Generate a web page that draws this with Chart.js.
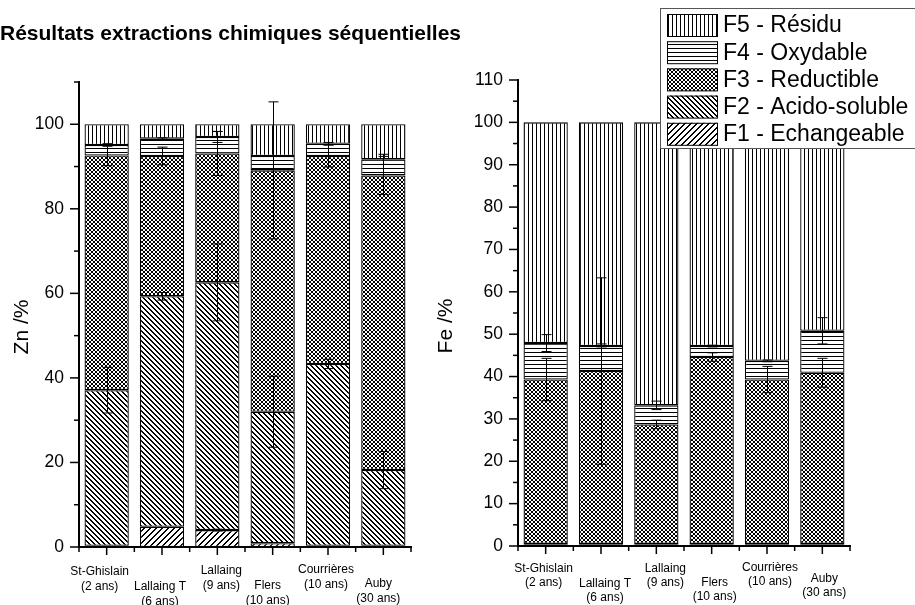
<!DOCTYPE html>
<html>
<head>
<meta charset="utf-8">
<script src="https://cdn.jsdelivr.net/npm/chart.js@4.4.0/dist/chart.umd.min.js"></script>
<style>
  html, body { margin: 0; padding: 0; background: #fff; }
  body { width: 915px; height: 605px; position: relative; overflow: hidden; }
  canvas { position: absolute; top: 0; }
  #zn { left: 0; }
  #fe { left: 400px; }
</style>
</head>
<body>
<canvas id="zn" width="470" height="605"></canvas>
<canvas id="fe" width="515" height="605"></canvas>
<script>
// sites and fractions
const siteNames = ['St-Ghislain', 'Lallaing T', 'Lallaing', 'Flers', 'Courrières', 'Auby'];
const siteAges = ['(2 ans)', '(6 ans)', '(9 ans)', '(10 ans)', '(10 ans)', '(30 ans)'];
const fractionNames = ['F1 - Echangeable', 'F2 - Acido-soluble', 'F3 - Reductible', 'F4 - Oxydable', 'F5 - Résidu'];

// Zn (%) per fraction
const znF1 = [0.3, 4.8, 4.0, 0.9, 0.3, 0.3];
const znF2 = [36.8, 54.5, 58.6, 31.1, 43.0, 17.9];
const znF3 = [55.5, 33.2, 30.5, 57.1, 49.2, 69.7];
const znF4 = [2.5, 4.1, 3.9, 3.4, 2.9, 3.8];
const znF5 = [4.9, 3.4, 3.0, 7.5, 4.6, 8.3];
const znErrF1 = [0, 0, 0.2, 0, 0, 0];
const znErrF2 = [5.4, 0.9, 9.1, 8.4, 1.1, 4.4];
const znErrF3 = [2.4, 2.1, 5.2, 16.2, 2.6, 4.5];
const znErrF4 = [0.3, 0.2, 1.3, 0, 0.3, 1.2];
const znErrF5 = [0, 0, 0, 0, 0, 0];

// Fe (%) per fraction
const feF1 = [0.3, 0.3, 0.3, 0.3, 0.3, 0.3];
const feF2 = [0.2, 0.2, 0.2, 0.2, 0.2, 0.2];
const feF3 = [38.8, 40.8, 28.2, 44.1, 38.8, 40.4];
const feF4 = [8.6, 5.9, 4.5, 2.6, 4.4, 9.9];
const feF5 = [52.1, 52.8, 66.8, 52.8, 56.3, 49.2];
const feErrF1 = [0, 0, 0, 0, 0, 0];
const feErrF2 = [0, 0, 0, 0, 0, 0];
const feErrF3 = [5.0, 22.0, 1.0, 1.0, 3.1, 3.4];
const feErrF4 = [2.0, 0.5, 1.0, 0.2, 0.2, 3.1];
const feErrF5 = [0, 0, 0, 0, 0, 0];

// tick labels
const znTickLabels = [0, 20, 40, 60, 80, 100];
const feTickLabels = [0, 10, 20, 30, 40, 50, 60, 70, 80, 90, 100, 110];

const FONT = '"Liberation Sans", Arial, sans-serif';
const patternKinds = ['fwd', 'back', 'cross', 'horiz', 'vert'];
const tileSize = { fwd: 6, back: 5, cross: 4, horiz: 4, vert: 4 };

// hatch tiles drawn pixel by pixel so the lines stay crisp
function makePattern(ctx, kind) {
  const s = tileSize[kind];
  const c = document.createElement('canvas');
  c.width = s; c.height = s;
  const g = c.getContext('2d');
  g.fillStyle = '#fff';
  g.fillRect(0, 0, s, s);
  g.fillStyle = '#000';
  for (let i = 0; i < s; i++) {
    if (kind === 'vert') g.fillRect(0, i, 1, 1);
    if (kind === 'horiz') g.fillRect(i, 0, 1, 1);
    if (kind === 'cross') { g.fillRect(i, i, 1, 1); g.fillRect(s - 1 - i, i, 1, 1); }
    if (kind === 'back') { g.fillRect(i, i, 1, 1); g.fillRect((i + 1) % s, i, 1, 1); }
    if (kind === 'fwd') { g.fillRect(s - 1 - i, i, 1, 1); g.fillRect((s - i) % s, i, 1, 1); }
  }
  return ctx.createPattern(c, 'repeat');
}

function line(g, x1, y1, x2, y2) {
  g.beginPath(); g.moveTo(x1, y1); g.lineTo(x2, y2); g.stroke();
}

function decor(o) {
  return {
    id: 'decor',
    afterDatasetsDraw(chart) {
      const g = chart.ctx, ys = chart.scales.y, xs = chart.scales.x, area = chart.chartArea;
      g.save();
      g.strokeStyle = '#000';
      // error bars
      g.lineWidth = 1;
      o.errors.forEach((errs, d) => {
        const meta = chart.getDatasetMeta(d);
        errs.forEach((e, j) => {
          if (!e) return;
          let top = 0;
          for (let k = 0; k <= d; k++) top += o.values[k][j];
          const x = Math.round(meta.data[j].x) + 0.5;
          const y1 = ys.getPixelForValue(top + e), y2 = ys.getPixelForValue(top - e);
          line(g, x, y1, x, y2);
          line(g, x - 5, y1, x + 5, y1);
          line(g, x - 5, y2, x + 5, y2);
        });
      });
      // axis ticks
      g.lineWidth = 1.5;
      for (let v = 0; v <= 110; v += o.minorStep) {
        const y = ys.getPixelForValue(v);
        const len = v % o.majorStep === 0 ? 9 : 5;
        line(g, area.left - len, y, area.left, y);
      }
      const step = (area.right - area.left) / siteNames.length;
      for (let k = 0; k <= siteNames.length; k++) {
        line(g, area.left + k * step, area.bottom, area.left + k * step, area.bottom + 5);
      }
      siteNames.forEach((n, j) => {
        const x = xs.getPixelForValue(j);
        line(g, x, area.bottom, x, area.bottom + 8);
      });
      g.restore();
    },
    afterDraw(chart) {
      const g = chart.ctx, xs = chart.scales.x;
      g.save();
      g.fillStyle = '#000';
      // category labels
      g.font = '12px ' + FONT;
      g.textAlign = 'center';
      g.textBaseline = 'middle';
      siteNames.forEach((n, j) => {
        const x = xs.getPixelForValue(j) + o.labelDx[j];
        const y = o.labelY[j];
        g.fillText(n, x, y);
        g.fillText(siteAges[j], x, y + o.lineGap);
      });
      // y axis title
      g.font = '21px ' + FONT;
      g.translate(o.axisTitleX - o.left, o.axisTitleY);
      g.rotate(-Math.PI / 2);
      g.fillText(o.axisTitle, 0, 0);
      g.restore();

      if (o.title) {
        g.save();
        g.font = 'bold 21px ' + FONT;
        g.fillStyle = '#000';
        g.textBaseline = 'alphabetic';
        g.fillText(o.title, 0, 40);
        g.restore();
      }
      if (o.legend) {
        const fills = chart.data.datasets.map(ds => ds.backgroundColor);
        const bx = 660 - o.left;
        g.save();
        g.fillStyle = '#fff';
        g.fillRect(bx, 8, 320, 140);
        g.strokeStyle = '#555';
        g.lineWidth = 1;
        g.strokeRect(bx + 0.5, 8.5, 320, 140);
        g.font = '23px ' + FONT;
        g.textBaseline = 'middle';
        for (let i = 0; i < 5; i++) {
          const d = 4 - i;
          const y = 14 + i * 27.2;
          g.fillStyle = fills[d];
          g.fillRect(bx + 7, y, 51, 22.5);
          g.strokeStyle = '#000';
          g.strokeRect(bx + 7.5, y + 0.5, 50, 22);
          g.fillStyle = '#000';
          g.fillText(fractionNames[d], bx + 63, y + 12);
        }
        g.restore();
      }
    }
  };
}

function buildChart(canvas, o) {
  const ctx = canvas.getContext('2d');
  const fills = patternKinds.map(k => makePattern(ctx, k));
  const datasets = o.values.map((vals, i) => ({
    label: fractionNames[i],
    data: vals,
    backgroundColor: fills[i],
    borderColor: '#000',
    borderWidth: 1.3,
    borderSkipped: false,
    barPercentage: 0.8,
    categoryPercentage: 1
  }));
  return new Chart(canvas, {
    type: 'bar',
    data: { labels: siteNames, datasets: datasets },
    options: {
      responsive: false,
      animation: false,
      layout: { padding: { top: o.top, right: o.padRight, left: 0, bottom: 0 } },
      plugins: { legend: { display: false }, tooltip: { enabled: false } },
      scales: {
        x: {
          stacked: true,
          grid: { display: false, drawTicks: false },
          border: { display: true, color: '#000', width: 2 },
          ticks: { display: false },
          afterFit: s => { s.height = o.xHeight; }
        },
        y: {
          stacked: true,
          min: 0,
          max: 110,
          grid: { display: false, drawTicks: false },
          border: { display: true, color: '#000', width: 2 },
          ticks: {
            stepSize: 10,
            autoSkip: false,
            padding: 15,
            color: '#000',
            font: { family: FONT, size: 17.5 },
            callback: v => o.tickLabels.includes(v) ? String(v) : ''
          },
          afterFit: s => { s.width = o.yWidth; }
        }
      }
    },
    plugins: [decor(o)]
  });
}

buildChart(document.getElementById('zn'), {
  values: [znF1, znF2, znF3, znF4, znF5],
  errors: [znErrF1, znErrF2, znErrF3, znErrF4, znErrF5],
  tickLabels: znTickLabels,
  left: 0, top: 82, padRight: 59, xHeight: 58, yWidth: 79,
  minorStep: 10, majorStep: 20,
  labelDx: [-7, -2, 4, -5, -2, -5],
  labelY: [571.7, 586.7, 570.7, 586, 569.3, 583.3],
  lineGap: 15,
  axisTitle: 'Zn /%', axisTitleX: 22.5, axisTitleY: 327,
  title: 'Résultats extractions chimiques séquentielles'
});

buildChart(document.getElementById('fe'), {
  values: [feF1, feF2, feF3, feF4, feF5],
  errors: [feErrF1, feErrF2, feErrF3, feErrF4, feErrF5],
  tickLabels: feTickLabels,
  left: 400, top: 80, padRight: 65, xHeight: 59, yWidth: 118,
  minorStep: 5, majorStep: 10,
  labelDx: [-2, 4, 9, 3, 3, 2],
  labelY: [568.3, 583.3, 568.3, 582.3, 567.3, 578.3],
  lineGap: 14.5,
  axisTitle: 'Fe /%', axisTitleX: 446, axisTitleY: 326,
  legend: true
});
</script>
</body>
</html>
